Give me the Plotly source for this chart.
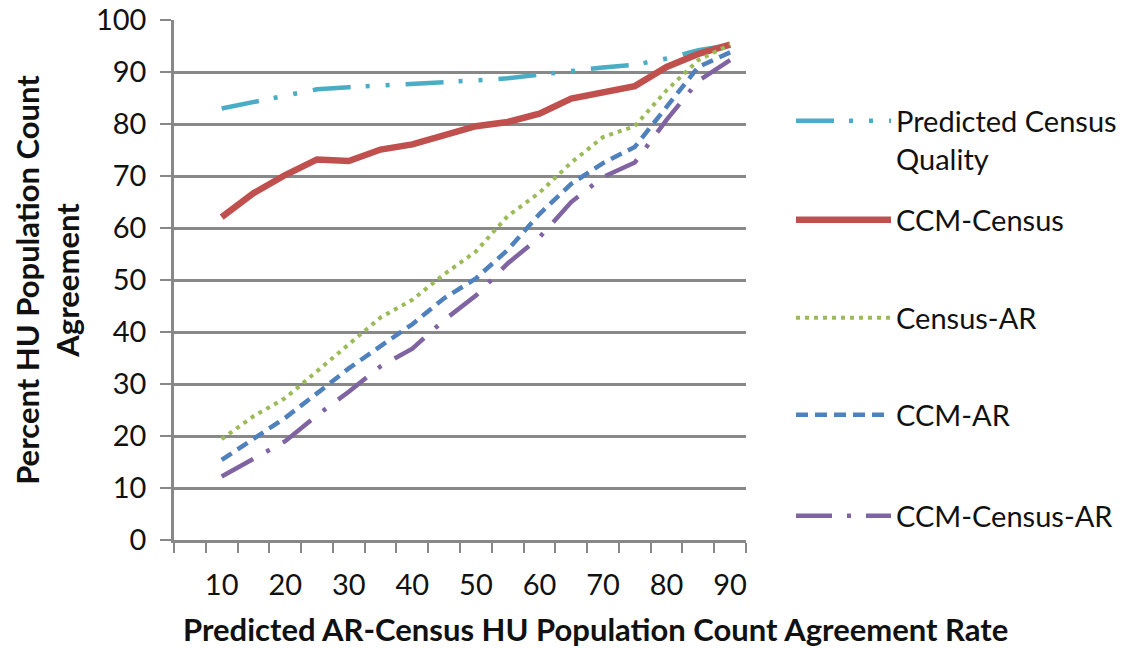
import plotly.graph_objects as go

x_vals = [10, 15, 20, 25, 30, 35, 40, 45, 50, 55, 60, 65, 70, 75, 80, 85, 90]
x_ticks = [10, 20, 30, 40, 50, 60, 70, 80, 90]
x_bounds = [2.5 + 5 * i for i in range(19)]
y_ticks = [0, 10, 20, 30, 40, 50, 60, 70, 80, 90, 100]

pred_census_quality = [83.0, 84.2, 85.4, 86.7, 87.1, 87.4, 87.6, 88.0, 88.4, 88.8, 89.5, 90.3, 90.9, 91.4, 92.6, 94.2, 95.2]
ccm_census = [62.1, 66.7, 70.2, 73.2, 72.9, 75.1, 76.1, 77.8, 79.6, 80.4, 82.0, 84.9, 86.0, 87.3, 91.0, 93.5, 95.3]
census_ar = [19.4, 23.8, 27.3, 32.4, 37.6, 42.8, 46.2, 51.1, 55.5, 62.3, 66.8, 72.6, 77.5, 79.6, 86.5, 92.3, 95.3]
ccm_ar = [15.4, 19.5, 23.5, 28.2, 33.0, 37.3, 41.5, 46.5, 50.3, 55.8, 62.7, 68.5, 72.5, 75.6, 83.3, 91.0, 93.8]
ccm_census_ar = [12.2, 15.7, 19.0, 24.0, 28.5, 33.4, 36.8, 42.3, 47.0, 53.2, 58.2, 65.0, 69.8, 72.6, 80.8, 88.3, 92.3]

names = ["Predicted Census<br>Quality", "CCM-Census", "Census-AR", "CCM-AR", "CCM-Census-AR"]
series = [pred_census_quality, ccm_census, census_ar, ccm_ar, ccm_census_ar]
colors = ["#4BACC6", "#C0504D", "#9BBB59", "#4F81BD", "#8064A2"]
widths = [4.5, 6.5, 4, 4.5, 4.5]
dashes = ["38px,15px,4px,16px,4px,16px", "solid", "4px,5px", "12px,7px", "36px,15px,4px,15px"]
legend_ids = ["legend", "legend2", "legend3", "legend4", "legend5"]
legend_y_screen = [140, 220, 318, 415, 516]

FONT = "Lato"
GRID = "#888888"
OFF = 8  # page body margin offset

fig = go.Figure()
for nm, ys, c, w, d, lg in zip(names, series, colors, widths, dashes, legend_ids):
    fig.add_trace(go.Scatter(
        x=x_vals, y=ys, name=nm, mode="lines",
        line=dict(color=c, width=w, dash=d),
        legend=lg,
    ))

W, H = 1134 - OFF, 648 - OFF
L = 174 - OFF
T = 20 - OFF
plot_w = 572
plot_h = 520
R = W - L - plot_w
B = H - T - plot_h


def px_x(sx):
    return (sx - OFF - L) / plot_w


def px_y(sy):
    return (T + plot_h - (sy - OFF)) / plot_h


layout_legends = {}
for lg, ys in zip(legend_ids, legend_y_screen):
    layout_legends[lg] = dict(
        x=px_x(791), xanchor="left",
        y=px_y(ys), yanchor="middle",
        font=dict(family=FONT, size=29, color="#111111"),
        bgcolor="rgba(0,0,0,0)", borderwidth=0,
        itemwidth=95, valign="top",
    )

fig.update_layout(
    width=W, height=H,
    margin=dict(l=L, r=R, t=T, b=B, autoexpand=False),
    paper_bgcolor="white", plot_bgcolor="white",
    font=dict(family=FONT, size=29, color="#111111"),
    showlegend=True,
    **layout_legends,
)

fig.update_xaxes(
    range=[2.5, 92.5], automargin=False,
    tickmode="array", tickvals=x_ticks, ticktext=[str(v) for v in x_ticks],
    ticks="", showgrid=False, zeroline=False,
    showline=True, linecolor=GRID, linewidth=2.5,
    tickfont=dict(family=FONT, size=29, color="#111111"),
    minor=dict(tickmode="array", tickvals=x_bounds, ticks="outside", ticklen=10,
               tickwidth=2, tickcolor=GRID, showgrid=False),
    ticklabelstandoff=17, ticklabeloverflow="allow",
)

fig.update_yaxes(
    range=[0, 100.02], automargin=False,
    tickmode="array", tickvals=y_ticks, ticktext=[str(v) for v in y_ticks],
    showgrid=True, gridcolor=GRID, gridwidth=2.5,
    zeroline=False,
    showline=True, linecolor=GRID, linewidth=2.5,
    ticks="outside", ticklen=11, tickwidth=2, tickcolor=GRID,
    tickfont=dict(family=FONT, size=29, color="#111111"),
    ticklabelstandoff=8, ticklabeloverflow="allow",
    title=dict(text="<b>Percent HU Population Count<br>Agreement</b>",
               font=dict(family=FONT, size=31, color="#111111"), standoff=17),
)

fig.add_annotation(
    text="<b>Predicted AR-Census HU Population Count Agreement Rate</b>",
    xref="paper", yref="paper",
    x=px_x(595), y=px_y(629),
    xanchor="center", yanchor="middle", showarrow=False,
    font=dict(family=FONT, size=31, color="#111111"),
)

fig.write_html("out.html")
